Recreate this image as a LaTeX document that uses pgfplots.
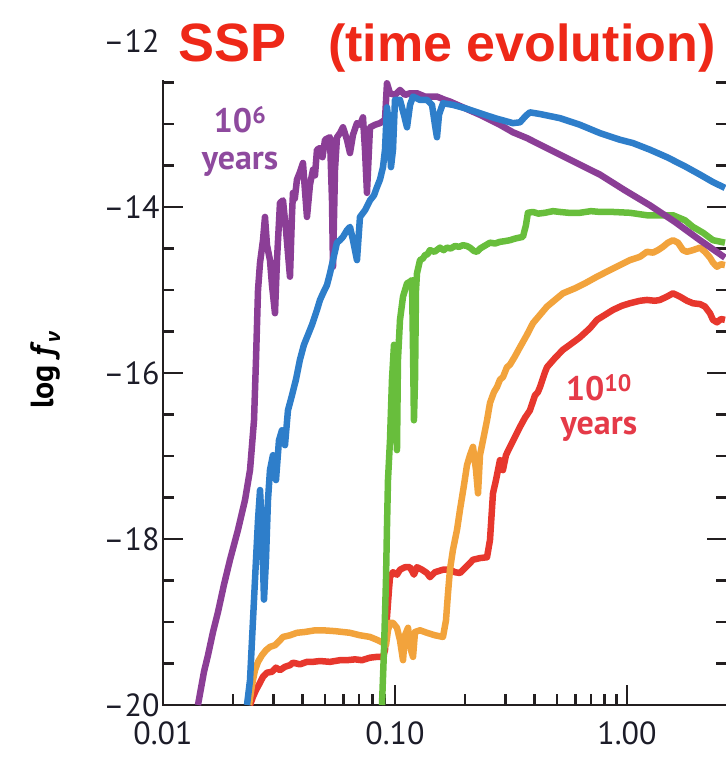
\documentclass[border=0pt]{standalone}
\usepackage{pgfplots}
\pgfplotsset{compat=1.18}
\usepackage{fontspec}
\setmainfont{PT Sans}
\newfontfamily\titlefont{Liberation Sans}
\newfontfamily\greekfont{Open Sans}
\definecolor{cPurple}{HTML}{8B3E96}
\definecolor{cBlue}{HTML}{2E7ECA}
\definecolor{cGreen}{HTML}{68BE3C}
\definecolor{cOrange}{HTML}{F2A33C}
\definecolor{cRed}{HTML}{E7372D}
\definecolor{titlered}{HTML}{EE2818}
\definecolor{axiscol}{HTML}{231F20}
\definecolor{tickcol}{HTML}{1C1C28}
\definecolor{labpurple}{HTML}{8E4A9E}
\definecolor{labred}{HTML}{E53A48}
\begin{document}
\begin{tikzpicture}
\begin{axis}[
  scale only axis,
  width=564pt, height=664pt,
  xmode=log,
  xmin=0.01, xmax=2.7,
  ymin=-20, ymax=-12,
  xtick={0.01,0.1,1},
  xticklabels={0.01,0.10,1.00},
  ytick={-20,-18,-16,-14,-12},
  yticklabels={–20,–18,–16,–14,–12},
  minor y tick num=3,
  tick align=inside,
  major tick length=20pt,
  minor tick length=11pt,
  axis line style={line width=2.6pt, color=axiscol},
  tick style={line width=2.6pt, color=axiscol},
  tick label style={font={\fontsize{32pt}{36pt}\selectfont}, text=tickcol},
  xticklabel style={yshift=-13pt},
  every axis plot/.append style={line width=6.5pt, line join=round},
  after end axis/.code={
    \fill[white] (rel axis cs:-0.0089,0.9405) rectangle (rel axis cs:1.1,1.2);
    \node[anchor=base west, text=titlered, inner sep=0pt,
      font={\titlefont\bfseries\fontsize{54pt}{60pt}\selectfont}]
      at (rel axis cs:0.0266,0.9684)
      {SSP\hspace{42pt}{\fontsize{52pt}{60pt}\selectfont(time evolution)}};
    \node[rotate=90, inner sep=0pt, text=black,
      font={\bfseries\fontsize{32pt}{36pt}\selectfont}]
      at (rel axis cs:-0.209,0.5045)
      {log \textit{f}\raisebox{-7pt}{\greekfont\bfseries\itshape\fontsize{20pt}{22pt}\selectfont ν}};
    \coordinate (bbll) at (rel axis cs:-0.2890,-0.0798);
    \coordinate (bbur) at (rel axis cs:0.99645,1.0617);
  },
]

% 10^10 years
\addplot[cRed] coordinates {
(0.02372,-20.00) (0.02444,-19.90) (0.02517,-19.82) (0.02620,-19.73) (0.02698,-19.66)
(0.02807,-19.61) (0.02950,-19.60) (0.03069,-19.55) (0.03194,-19.58) (0.03356,-19.54)
(0.03527,-19.52) (0.03633,-19.49) (0.03894,-19.51) (0.04175,-19.48) (0.04432,-19.48)
(0.04751,-19.47) (0.05246,-19.48) (0.05794,-19.46) (0.06210,-19.46) (0.06724,-19.45)
(0.07208,-19.46) (0.07803,-19.43) (0.08364,-19.42) (0.08878,-19.42) (0.09056,-19.34)
(0.09236,-18.94) (0.09421,-18.61) (0.09516,-18.46) (0.09804,-18.40) (0.1020,-18.43)
(0.1051,-18.37) (0.1104,-18.34) (0.1161,-18.34) (0.1207,-18.43) (0.1244,-18.34)
(0.1308,-18.37) (0.1374,-18.41) (0.1415,-18.46) (0.1487,-18.40) (0.1610,-18.37)
(0.1726,-18.37) (0.1814,-18.40) (0.1906,-18.41) (0.2003,-18.35) (0.2105,-18.29)
(0.2169,-18.25) (0.2325,-18.23) (0.2493,-18.22) (0.2568,-18.01) (0.2645,-17.45)
(0.2725,-17.29) (0.2835,-17.05) (0.2920,-17.17) (0.3009,-16.99) (0.3131,-16.89)
(0.3290,-16.77) (0.3457,-16.65) (0.3633,-16.54) (0.3818,-16.45) (0.4012,-16.27)
(0.4133,-16.23) (0.4217,-16.17) (0.4432,-15.99) (0.4521,-15.93) (0.4894,-15.82)
(0.5299,-15.72) (0.5679,-15.66) (0.6272,-15.57) (0.6926,-15.46) (0.7426,-15.36)
(0.8039,-15.30) (0.8703,-15.24) (0.9516,-15.19) (1.030,-15.16) (1.138,-15.13)
(1.2195,-15.12) (1.320,-15.13) (1.387,-15.12) (1.4873,-15.08) (1.579,-15.04)
(1.692,-15.08) (1.814,-15.13) (1.925,-15.16) (2.064,-15.17) (2.169,-15.20)
(2.279,-15.28) (2.348,-15.36) (2.4435,-15.39) (2.543,-15.35) (2.645,-15.36)
};

% orange
\addplot[cOrange] coordinates {
(0.02348,-20.00) (0.02419,-19.76) (0.02492,-19.58) (0.02568,-19.48) (0.02671,-19.40)
(0.02779,-19.34) (0.02892,-19.30) (0.03039,-19.28) (0.03194,-19.22) (0.03290,-19.18)
(0.03527,-19.16) (0.03780,-19.13) (0.04092,-19.12) (0.04521,-19.10) (0.04894,-19.10)
(0.05514,-19.11) (0.06398,-19.13) (0.07066,-19.16) (0.07803,-19.18) (0.08447,-19.22)
(0.08878,-19.25) (0.09146,-19.28) (0.09329,-19.10) (0.09516,-19.01) (0.09804,-19.01)
(0.1020,-19.07) (0.1051,-19.22) (0.1083,-19.46) (0.1104,-19.16) (0.1138,-19.07)
(0.1172,-19.34) (0.1196,-19.42) (0.1220,-19.12) (0.1282,-19.10) (0.1374,-19.13)
(0.1487,-19.16) (0.1610,-19.18) (0.1659,-18.98) (0.1693,-18.65) (0.1726,-18.37)
(0.1778,-18.13) (0.1851,-17.89) (0.1906,-17.65) (0.1984,-17.35) (0.2044,-17.11)
(0.2105,-16.99) (0.2169,-16.89) (0.2235,-17.17) (0.2280,-17.45) (0.2325,-16.99)
(0.2396,-16.81) (0.2493,-16.57) (0.2568,-16.36) (0.2671,-16.23) (0.2752,-16.17)
(0.2835,-16.08) (0.2920,-16.05) (0.3039,-15.93) (0.3131,-15.90) (0.3290,-15.80)
(0.3457,-15.69) (0.3706,-15.54) (0.3933,-15.40) (0.4217,-15.30) (0.4521,-15.20)
(0.4894,-15.12) (0.5299,-15.04) (0.5969,-14.98) (0.6592,-14.92) (0.7426,-14.84)
(0.8447,-14.76) (0.9329,-14.70) (1.030,-14.64) (1.138,-14.60) (1.2195,-14.54)
(1.2945,-14.55) (1.360,-14.52) (1.429,-14.48) (1.502,-14.43) (1.579,-14.40)
(1.659,-14.43) (1.743,-14.52) (1.814,-14.54) (1.925,-14.52) (2.064,-14.49)
(2.169,-14.54) (2.279,-14.61) (2.348,-14.67) (2.4435,-14.72) (2.543,-14.69) (2.645,-14.70)
};

% green
\addplot[cGreen] coordinates {
(0.08790,-20.00) (0.08966,-19.34) (0.09146,-18.49) (0.09236,-17.86) (0.09329,-17.29)
(0.09516,-16.81) (0.09707,-16.08) (0.09902,-15.66) (0.1010,-16.57) (0.1020,-16.93)
(0.1030,-15.84) (0.1051,-15.36) (0.1083,-15.08) (0.1127,-14.92) (0.1161,-14.90)
(0.1184,-14.88) (0.1196,-15.72) (0.1207,-16.57) (0.1220,-16.08) (0.1232,-15.00)
(0.1244,-14.80) (0.1282,-14.64) (0.1320,-14.62) (0.1347,-14.58) (0.1380,-14.57)
(0.1415,-14.52) (0.1480,-14.54) (0.1563,-14.49) (0.1620,-14.52) (0.1676,-14.49)
(0.1740,-14.50) (0.1814,-14.47) (0.1890,-14.48) (0.1964,-14.46) (0.2040,-14.47)
(0.2105,-14.49) (0.2190,-14.53) (0.2257,-14.54) (0.2330,-14.50) (0.2396,-14.48)
(0.2568,-14.43) (0.2700,-14.44) (0.2835,-14.42) (0.3000,-14.41) (0.3131,-14.40)
(0.3300,-14.38) (0.3561,-14.36) (0.3669,-14.22) (0.3742,-14.07) (0.3933,-14.06)
(0.4150,-14.08) (0.4432,-14.07) (0.4800,-14.05) (0.5143,-14.06) (0.5600,-14.07)
(0.6272,-14.07) (0.7000,-14.05) (0.7649,-14.06) (0.8703,-14.06) (1.030,-14.07)
(1.2195,-14.10) (1.387,-14.10) (1.579,-14.10) (1.778,-14.16) (1.925,-14.24)
(2.126,-14.31) (2.348,-14.40) (2.645,-14.43)
};

% 10^6 years
\addplot[cPurple] coordinates {
(0.01415,-20.00) (0.01502,-19.60) (0.01563,-19.40) (0.01643,-19.12) (0.01726,-18.88)
(0.01832,-18.55) (0.01945,-18.25) (0.02105,-17.89) (0.02257,-17.53) (0.02372,-17.17)
(0.02468,-16.57) (0.02517,-15.84) (0.02568,-15.00) (0.02620,-14.67) (0.02698,-14.40)
(0.02752,-14.12) (0.02807,-14.46) (0.02892,-14.64) (0.02950,-14.94) (0.03039,-15.28)
(0.03100,-14.64) (0.03194,-13.95) (0.03290,-13.92) (0.03390,-14.28) (0.03527,-14.84)
(0.03597,-14.10) (0.03633,-13.83) (0.03700,-13.90) (0.03780,-13.67) (0.03894,-13.58)
(0.04012,-13.47) (0.04092,-13.80) (0.04175,-14.12) (0.04302,-13.73) (0.04432,-13.55)
(0.04520,-13.62) (0.04611,-13.31) (0.04751,-13.29) (0.04870,-13.40) (0.04993,-13.19)
(0.05246,-13.16) (0.05352,-13.92) (0.05405,-14.72) (0.05514,-13.55) (0.05623,-13.16)
(0.05794,-13.11) (0.05969,-13.04) (0.06210,-13.19) (0.06398,-13.35) (0.06592,-13.13)
(0.06858,-12.99) (0.07066,-13.01) (0.07279,-12.92) (0.07426,-13.31) (0.07574,-13.83)
(0.07803,-13.04) (0.08201,-13.01) (0.08617,-12.99) (0.09056,-12.95) (0.09236,-12.51)
(0.09516,-12.63) (0.1,-12.65) (0.1051,-12.59) (0.1104,-12.65) (0.1161,-12.63)
(0.1244,-12.63) (0.1347,-12.67) (0.1517,-12.67) (0.1643,-12.71) (0.1726,-12.73)
(0.2003,-12.81) (0.2325,-12.89) (0.2835,-13.01) (0.3225,-13.10) (0.3706,-13.17)
(0.4657,-13.31) (0.5969,-13.46) (0.7649,-13.61) (0.9804,-13.80) (1.256,-13.98)
(1.610,-14.18) (2.064,-14.40) (2.645,-14.61)
};

% blue
\addplot[cBlue] coordinates {
(0.02302,-20.00) (0.02372,-19.70) (0.02419,-19.22) (0.02468,-18.73) (0.02517,-18.25)
(0.02568,-17.77) (0.02620,-17.41) (0.02671,-17.89) (0.02725,-18.73) (0.02779,-18.25)
(0.02835,-17.53) (0.02892,-17.17) (0.02979,-16.99) (0.03069,-17.29) (0.03162,-16.81)
(0.03257,-16.69) (0.03356,-16.87) (0.03457,-16.45) (0.03597,-16.27) (0.03742,-16.08)
(0.03894,-15.84) (0.04051,-15.66) (0.04175,-15.57) (0.04388,-15.42) (0.04611,-15.24)
(0.04751,-15.12) (0.04894,-15.04) (0.05092,-14.94) (0.05246,-14.80) (0.05405,-14.64)
(0.05623,-14.43) (0.05794,-14.40) (0.05969,-14.36) (0.06210,-14.28) (0.06398,-14.24)
(0.06592,-14.40) (0.06858,-14.64) (0.07066,-14.12) (0.07426,-14.04) (0.07803,-13.92)
(0.08119,-13.86) (0.08364,-13.76) (0.08617,-13.67) (0.08878,-13.52) (0.09056,-13.31)
(0.09236,-12.80) (0.09421,-13.01) (0.09610,-13.52) (0.09804,-13.31) (0.1,-12.71)
(0.1051,-12.71) (0.1093,-12.89) (0.1127,-13.04) (0.1161,-12.77) (0.1196,-12.67)
(0.1282,-12.71) (0.1374,-12.71) (0.1444,-12.77) (0.1487,-13.01) (0.1517,-13.16)
(0.1548,-12.89) (0.1610,-12.75) (0.1778,-12.77) (0.2003,-12.81) (0.2325,-12.87)
(0.2698,-12.93) (0.3225,-12.99) (0.3457,-12.98) (0.3669,-12.90) (0.3818,-12.86)
(0.4217,-12.88) (0.5143,-12.93) (0.6272,-13.01) (0.7649,-13.11) (0.9329,-13.19)
(1.061,-13.23) (1.256,-13.31) (1.4873,-13.40) (1.778,-13.51) (2.064,-13.61)
(2.348,-13.70) (2.645,-13.77)
};

\node[text=labpurple, font={\bfseries\fontsize{34pt}{40pt}\selectfont}]
  at (axis cs:0.02147,-12.95) {10\textsuperscript{6}};
\node[text=labpurple, font={\bfseries\fontsize{34pt}{40pt}\selectfont}]
  at (axis cs:0.02147,-13.48) {years};
\node[text=labred, font={\bfseries\fontsize{34pt}{40pt}\selectfont}]
  at (axis cs:0.757,-16.18) {10\textsuperscript{10}};
\node[text=labred, font={\bfseries\fontsize{34pt}{40pt}\selectfont}]
  at (axis cs:0.757,-16.68) {years};
\end{axis}
\pgfresetboundingbox
\path[use as bounding box] (bbll) rectangle (bbur);
\end{tikzpicture}
\end{document}
